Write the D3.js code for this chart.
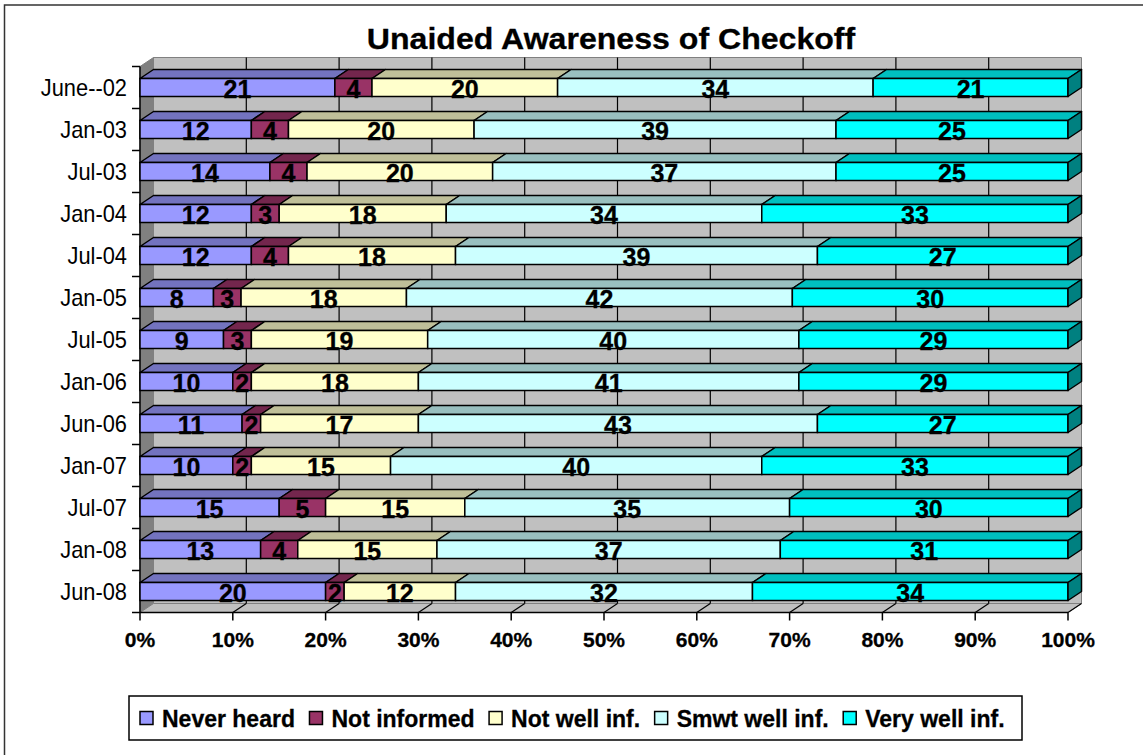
<!DOCTYPE html>
<html>
<head>
<meta charset="utf-8">
<script src="https://cdn.jsdelivr.net/npm/d3@7"></script>
<style>
  body { margin: 0; background: #fff; }
  svg { display: block; font-family: "Liberation Sans", Arial, sans-serif; }
</style>
</head>
<body>
<script>
// data
const categories = ['June--02', 'Jan-03', 'Jul-03', 'Jan-04', 'Jul-04', 'Jan-05', 'Jul-05',
  'Jan-06', 'Jun-06', 'Jan-07', 'Jul-07', 'Jan-08', 'Jun-08']
const seriesNames = ['Never heard', 'Not informed', 'Not well inf.', 'Smwt well inf.', 'Very well inf.']
const neverHeard   = [21, 12, 14, 12, 12,  8,  9, 10, 11, 10, 15, 13, 20]
const notInformed  = [ 4,  4,  4,  3,  4,  3,  3,  2,  2,  2,  5,  4,  2]
const notWell      = [20, 20, 20, 18, 18, 18, 19, 18, 17, 15, 15, 15, 12]
const smwtWell     = [34, 39, 37, 34, 39, 42, 40, 41, 43, 40, 35, 37, 32]
const veryWell     = [21, 25, 25, 33, 27, 30, 29, 29, 27, 33, 30, 31, 34]
const xTicks = [0, 10, 20, 30, 40, 50, 60, 70, 80, 90, 100]

const frontColors = ['#9999FF', '#993366', '#FFFFCC', '#CCFFFF', '#00FFFF']
const topColors   = ['#7373BF', '#73264D', '#BFBF99', '#99BFBF', '#00BFBF']
const sideColors  = ['#4D4D80', '#4D1A33', '#808066', '#668080', '#008080']

const W = 1143, H = 755
const DX = 13.5, DY = -9 // 3d depth offset

const svg = d3.select('body').append('svg')
  .attr('width', W)
  .attr('height', H)

const x = d3.scaleLinear().domain([0, 100]).range([140, 1068])
const y = d3.scaleBand().domain(categories).range([66.5, 612.5])
  .paddingInner(24 / 42).paddingOuter(12 / 42)
const yTop = 66.5, yBot = 612.5

const allSeries = [neverHeard, notInformed, notWell, smwtWell, veryWell]
const rows = categories.map((c, i) => {
  const vals = allSeries.map(s => s[i])
  const total = d3.sum(vals)
  let acc = 0
  return {
    cat: c,
    segs: vals.map((v, k) => {
      const s = { k, v, x0: acc / total * 100, x1: (acc + v) / total * 100 }
      acc += v
      return s
    })
  }
})

const poly = pts => 'M' + pts.map(p => p.join(',')).join('L') + 'Z'

// some text in the picture is stretched sideways a bit, so scale it
function stretchedText(g, tx, ty, txt, size, weight, anchor, sx) {
  const t = g.append('text')
    .attr('transform', `translate(${tx},${ty}) scale(${sx},1)`)
    .attr('text-anchor', anchor)
    .style('font-size', size + 'px')
    .style('font-weight', weight)
    .text(txt)
  if (weight === 'bold') t.attr('stroke', '#000').attr('stroke-width', 0.3)
  return t
}

// outer chart border
svg.append('rect')
  .attr('x', 4.5).attr('y', 5)
  .attr('width', W + 20).attr('height', H + 20)
  .attr('fill', 'none').attr('stroke', '#333').attr('stroke-width', 1.5)

// title
stretchedText(svg, 611, 48.5, 'Unaided Awareness of Checkoff', 30, 'bold', 'middle', 1.07)

// walls
const x0 = x(0), x1 = x(100)
svg.append('path')
  .attr('d', poly([[x0 + DX, yTop + DY], [x1 + DX, yTop + DY], [x1 + DX, yBot + DY], [x0 + DX, yBot + DY]]))
  .attr('fill', '#C0C0C0').attr('stroke', '#808080')
svg.append('path')
  .attr('d', poly([[x0, yTop], [x0 + DX, yTop + DY], [x0 + DX, yBot + DY], [x0, yBot]]))
  .attr('fill', '#808080').attr('stroke', '#808080')
svg.append('path')
  .attr('d', poly([[x0, yBot], [x0 + DX, yBot + DY], [x1 + DX, yBot + DY], [x1, yBot]]))
  .attr('fill', '#C0C0C0').attr('stroke', '#808080')

// gridlines on back wall and floor
svg.selectAll('.grid').data(xTicks.slice(1, -1)).join('line')
  .attr('x1', d => x(d) + DX).attr('x2', d => x(d) + DX)
  .attr('y1', yTop + DY).attr('y2', yBot + DY)
  .attr('stroke', '#000').attr('stroke-width', 1.2)
svg.selectAll('.floorgrid').data(xTicks.slice(1)).join('line')
  .attr('x1', d => x(d)).attr('x2', d => x(d) + DX)
  .attr('y1', yBot).attr('y2', yBot + DY)
  .attr('stroke', '#000').attr('stroke-width', 1.2)

// axes lines + ticks
svg.append('line').attr('x1', x0).attr('x2', x1).attr('y1', yBot).attr('y2', yBot)
  .attr('stroke', '#000').attr('stroke-width', 1.5)
svg.append('line').attr('x1', x0).attr('x2', x0).attr('y1', yTop).attr('y2', yBot)
  .attr('stroke', '#000').attr('stroke-width', 1.5)
svg.selectAll('.xtick').data(xTicks).join('line')
  .attr('x1', d => x(d)).attr('x2', d => x(d))
  .attr('y1', yBot).attr('y2', yBot + 8)
  .attr('stroke', '#000').attr('stroke-width', 1.5)
const step = y.step()
svg.selectAll('.ytick').data(d3.range(categories.length + 1)).join('line')
  .attr('x1', x0 - 8).attr('x2', x0)
  .attr('y1', d => yTop + d * step).attr('y2', d => yTop + d * step)
  .attr('stroke', '#000').attr('stroke-width', 1.5)

// tick labels
xTicks.forEach(t => stretchedText(svg, x(t), 647, t + '%', 21, 'bold', 'middle', 1.0))
categories.forEach(c => stretchedText(svg, 127, y(c) + y.bandwidth() / 2 + 8, c, 23, 'normal', 'end', 0.95))

// bars
const bh = y.bandwidth()
const barG = svg.append('g')
rows.forEach(r => {
  const g = barG.append('g')
  const yt = y(r.cat)
  r.segs.forEach(s => {
    const a = x(s.x0), b = x(s.x1)
    g.append('path')
      .attr('d', poly([[a, yt], [a + DX, yt + DY], [b + DX, yt + DY], [b, yt]]))
      .attr('fill', topColors[s.k]).attr('stroke', '#000').attr('stroke-width', 1.5)
      .attr('stroke-linejoin', 'round')
    g.append('rect')
      .attr('x', a).attr('y', yt).attr('width', b - a).attr('height', bh)
      .attr('fill', frontColors[s.k]).attr('stroke', '#000').attr('stroke-width', 1.5)
  })
  const last = r.segs[r.segs.length - 1]
  const e = x(last.x1)
  g.append('path')
    .attr('d', poly([[e, yt], [e + DX, yt + DY], [e + DX, yt + bh + DY], [e, yt + bh]]))
    .attr('fill', sideColors[last.k]).attr('stroke', '#000').attr('stroke-width', 1.5)
    .attr('stroke-linejoin', 'round')
  r.segs.forEach(s => {
    stretchedText(g, (x(s.x0) + x(s.x1)) / 2, yt + bh + 1, s.v, 25, 'bold', 'middle', 1.0)
  })
})

// legend
const legG = svg.append('g')
legG.append('rect')
  .attr('x', 129).attr('y', 696).attr('width', 893).attr('height', 44)
  .attr('fill', '#fff').attr('stroke', '#000').attr('stroke-width', 1.5)
let lx = 140
seriesNames.forEach((n, k) => {
  legG.append('rect')
    .attr('x', lx).attr('y', 711.5).attr('width', 13).attr('height', 13)
    .attr('fill', frontColors[k]).attr('stroke', '#000').attr('stroke-width', 1.5)
  const t = stretchedText(legG, lx + 22, 727, n, 23, 'bold', 'start', 1.0)
  lx += 22 + t.node().getComputedTextLength() + 14.5
})
</script>
</body>
</html>
